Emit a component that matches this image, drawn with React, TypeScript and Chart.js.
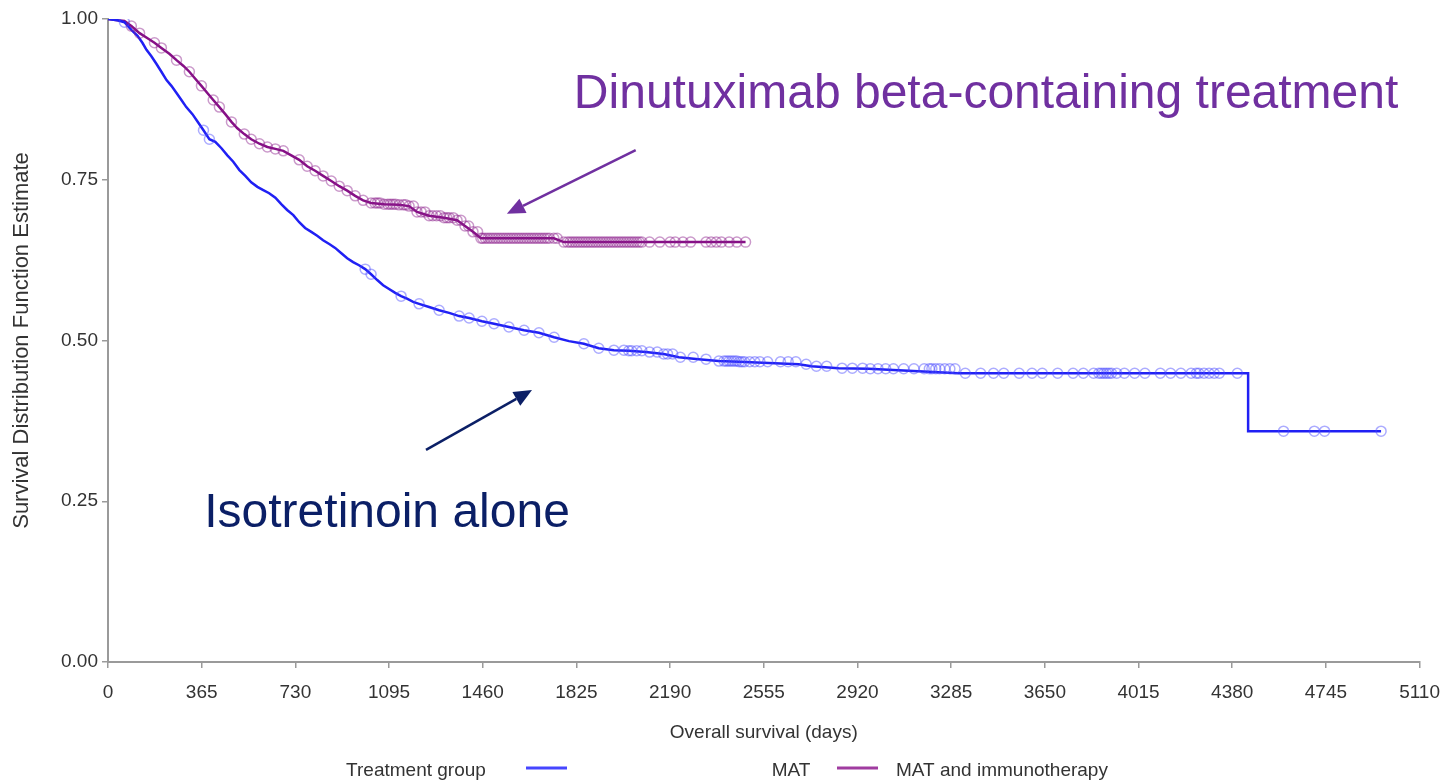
import React, { useEffect, useRef } from "react";
import { Chart, registerables } from "chart.js";

Chart.register(...registerables);

const FONT = '"Liberation Sans", Arial, Helvetica, sans-serif';

// Axis ticks
const xTickValues = [0, 365, 730, 1095, 1460, 1825, 2190, 2555, 2920, 3285, 3650, 4015, 4380, 4745, 5110];
const yTickValues = [0, 0.25, 0.5, 0.75, 1.0];

// MAT (isotretinoin alone) Kaplan-Meier estimate
const matDays = [0, 37, 64, 91, 115, 134, 150, 169, 189, 208, 228, 247, 267, 286, 305, 329, 348, 372, 395, 418, 442, 465, 488, 512, 535, 558, 582, 605, 628, 652, 675, 698, 722, 745, 768, 792, 815, 838, 862, 885, 908, 932, 955, 978, 1002, 1025, 1049, 1072, 1095, 1119, 1142, 1165, 1189, 1212, 1251, 1290, 1329, 1368, 1407, 1457, 1504, 1562, 1621, 1679, 1738, 1796, 1854, 1912, 1971, 2029, 2095, 2165, 2224, 2301, 2379, 2457, 2691, 2741, 2846, 2963, 3313, 4442, 4442, 4960];
const matSurv = [1.0, 0.998, 0.995, 0.983, 0.974, 0.963, 0.952, 0.942, 0.93, 0.918, 0.905, 0.896, 0.885, 0.874, 0.863, 0.852, 0.841, 0.827, 0.813, 0.809, 0.799, 0.788, 0.778, 0.765, 0.756, 0.746, 0.739, 0.734, 0.729, 0.722, 0.712, 0.703, 0.695, 0.684, 0.675, 0.669, 0.663, 0.656, 0.65, 0.644, 0.636, 0.628, 0.622, 0.617, 0.611, 0.603, 0.594, 0.586, 0.58, 0.574, 0.569, 0.565, 0.56, 0.557, 0.552, 0.547, 0.543, 0.538, 0.535, 0.53, 0.526, 0.521, 0.516, 0.512, 0.505, 0.499, 0.495, 0.488, 0.485, 0.484, 0.482, 0.479, 0.474, 0.471, 0.468, 0.467, 0.463, 0.46, 0.457, 0.456, 0.449, 0.449, 0.359, 0.359];
const matCensorDays = [64, 372, 395, 1002, 1025, 1142, 1212, 1290, 1368, 1407, 1457, 1504, 1562, 1621, 1679, 1738, 1854, 1912, 1971, 2010, 2029, 2040, 2060, 2080, 2110, 2140, 2165, 2180, 2200, 2230, 2280, 2330, 2380, 2400, 2410, 2420, 2430, 2440, 2450, 2460, 2470, 2480, 2500, 2520, 2540, 2570, 2620, 2650, 2680, 2720, 2760, 2800, 2860, 2900, 2940, 2970, 3000, 3030, 3060, 3100, 3140, 3180, 3200, 3210, 3225, 3240, 3260, 3280, 3300, 3340, 3400, 3450, 3490, 3550, 3600, 3640, 3700, 3760, 3800, 3840, 3860, 3870, 3880, 3890, 3900, 3910, 3930, 3960, 4000, 4040, 4100, 4140, 4180, 4220, 4240, 4250, 4270, 4290, 4310, 4330, 4400, 4580, 4700, 4740, 4960];

// MAT and immunotherapy (dinutuximab beta-containing) Kaplan-Meier estimate
const immDays = [0, 37, 64, 91, 123, 154, 181, 208, 239, 267, 294, 317, 340, 364, 387, 410, 434, 457, 481, 504, 531, 558, 590, 621, 652, 683, 714, 745, 776, 807, 838, 870, 901, 932, 963, 994, 1025, 1076, 1134, 1173, 1204, 1251, 1309, 1360, 1391, 1422, 1453, 1737, 1776, 2484];
const immSurv = [1.0, 0.998, 0.997, 0.989, 0.978, 0.97, 0.963, 0.955, 0.946, 0.936, 0.927, 0.918, 0.907, 0.896, 0.885, 0.874, 0.863, 0.852, 0.84, 0.83, 0.821, 0.813, 0.806, 0.801, 0.798, 0.795, 0.788, 0.781, 0.771, 0.764, 0.756, 0.748, 0.74, 0.733, 0.725, 0.718, 0.714, 0.712, 0.711, 0.709, 0.7, 0.694, 0.691, 0.687, 0.678, 0.669, 0.659, 0.659, 0.653, 0.653];
const immCensorDays = [91, 123, 181, 208, 267, 317, 364, 410, 434, 481, 531, 558, 590, 621, 652, 683, 745, 776, 807, 838, 870, 901, 932, 963, 994, 1025, 1040, 1050, 1060, 1076, 1090, 1100, 1110, 1120, 1134, 1150, 1160, 1173, 1190, 1204, 1220, 1235, 1251, 1265, 1280, 1295, 1309, 1320, 1330, 1345, 1360, 1375, 1391, 1405, 1422, 1440, 1453, 1460, 1470, 1480, 1490, 1500, 1510, 1520, 1530, 1540, 1550, 1560, 1570, 1580, 1590, 1600, 1610, 1620, 1630, 1640, 1650, 1660, 1670, 1680, 1690, 1700, 1710, 1720, 1737, 1750, 1776, 1790, 1800, 1810, 1820, 1830, 1840, 1850, 1860, 1870, 1880, 1890, 1900, 1910, 1920, 1930, 1940, 1950, 1960, 1970, 1980, 1990, 2000, 2010, 2020, 2030, 2040, 2050, 2060, 2070, 2080, 2110, 2150, 2190, 2210, 2240, 2270, 2330, 2350, 2370, 2390, 2420, 2450, 2484];

// Legend / annotation text
const legendTitle = "Treatment group";
const seriesNames = ["MAT", "MAT and immunotherapy"];
const immLabel = "Dinutuximab beta-containing treatment";
const matLabel = "Isotretinoin alone";
// annotation anchors in data units [days, survival]
const immLabelAnchor = [1815, 0.862];
const matLabelAnchor = [375, 0.21];
const immArrow = [[2056, 0.796], [1554, 0.697]];
const matArrow = [[1239, 0.33], [1652, 0.423]];

const curve = (days: number[], surv: number[]) => days.map((d, i) => ({ x: d, y: surv[i] }));
const survAt = (days: number[], surv: number[], t: number) => {
  let v = surv[0];
  for (let i = 0; i < days.length; i++) {
    if (days[i] <= t) v = surv[i];
  }
  return v;
};
const censors = (cd: number[], days: number[], surv: number[]) => cd.map((t) => ({ x: t, y: survAt(days, surv, t) }));

function drawArrow(ctx: CanvasRenderingContext2D, x1: number, y1: number, x2: number, y2: number, color: string) {
  const ang = Math.atan2(y2 - y1, x2 - x1);
  const len = 18;
  const hw = 8;
  const bx = x2 - len * Math.cos(ang);
  const by = y2 - len * Math.sin(ang);
  ctx.strokeStyle = color;
  ctx.fillStyle = color;
  ctx.lineWidth = 2.5;
  ctx.beginPath();
  ctx.moveTo(x1, y1);
  ctx.lineTo(bx, by);
  ctx.stroke();
  ctx.beginPath();
  ctx.moveTo(x2, y2);
  ctx.lineTo(bx + hw * Math.sin(ang), by - hw * Math.cos(ang));
  ctx.lineTo(bx - hw * Math.sin(ang), by + hw * Math.cos(ang));
  ctx.closePath();
  ctx.fill();
}

const overlayPlugin = {
  id: "overlay",
  afterDraw(chart: any) {
    const ctx = chart.ctx as CanvasRenderingContext2D;
    const xs = chart.scales.x;
    const ys = chart.scales.y;
    const px = (d: number) => xs.getPixelForValue(d);
    const py = (s: number) => ys.getPixelForValue(s);
    ctx.save();
    // annotations
    ctx.font = `48px ${FONT}`;
    ctx.textAlign = "left";
    ctx.textBaseline = "alphabetic";
    ctx.fillStyle = "#7030A0";
    ctx.fillText(immLabel, px(immLabelAnchor[0]), py(immLabelAnchor[1]));
    ctx.fillStyle = "#0B1F66";
    ctx.fillText(matLabel, px(matLabelAnchor[0]), py(matLabelAnchor[1]));
    drawArrow(ctx, px(immArrow[0][0]), py(immArrow[0][1]), px(immArrow[1][0]), py(immArrow[1][1]), "#7030A0");
    drawArrow(ctx, px(matArrow[0][0]), py(matArrow[0][1]), px(matArrow[1][0]), py(matArrow[1][1]), "#0B1F66");

    // legend (SAS style)
    const ly = 771;
    ctx.font = `19px ${FONT}`;
    ctx.textBaseline = "middle";
    ctx.fillStyle = "#333";
    ctx.textAlign = "center";
    ctx.fillText(legendTitle, 416, ly);
    ctx.lineWidth = 3;
    ctx.strokeStyle = "#4646FF";
    ctx.beginPath();
    ctx.moveTo(526, ly - 3);
    ctx.lineTo(567, ly - 3);
    ctx.stroke();
    ctx.fillText(seriesNames[0], 791, ly);
    ctx.strokeStyle = "#A03CA0";
    ctx.beginPath();
    ctx.moveTo(837, ly - 3);
    ctx.lineTo(878, ly - 3);
    ctx.stroke();
    ctx.textAlign = "left";
    ctx.fillText(seriesNames[1], 896, ly);
    ctx.restore();
  },
};

export default function App() {
  const ref = useRef<HTMLCanvasElement | null>(null);
  useEffect(() => {
    if (!ref.current) return;
    const chart = new Chart(ref.current, {
      type: "line",
      data: {
        datasets: [
          {
            label: seriesNames[0] + " censored",
            type: "scatter",
            data: censors(matCensorDays, matDays, matSurv),
            pointStyle: "circle",
            pointRadius: 5,
            borderWidth: 1.5,
            borderColor: "rgba(70,70,255,0.45)",
            backgroundColor: "rgba(0,0,0,0)",
            showLine: false,
          } as any,
          {
            label: seriesNames[1] + " censored",
            type: "scatter",
            data: censors(immCensorDays, immDays, immSurv),
            pointStyle: "circle",
            pointRadius: 5,
            borderWidth: 1.5,
            borderColor: "rgba(140,30,140,0.45)",
            backgroundColor: "rgba(0,0,0,0)",
            showLine: false,
          } as any,
          {
            label: seriesNames[0],
            data: curve(matDays, matSurv),
            borderColor: "#2020F4",
            borderWidth: 2.5,
            pointRadius: 0,
            tension: 0,
            fill: false,
          },
          {
            label: seriesNames[1],
            data: curve(immDays, immSurv),
            borderColor: "#860F86",
            borderWidth: 2.5,
            pointRadius: 0,
            tension: 0,
            fill: false,
          },
        ],
      },
      options: {
        animation: false,
        responsive: false,
        devicePixelRatio: 1,
        events: [],
        layout: { padding: { top: 19, right: 32, left: 0, bottom: 0 } },
        plugins: { legend: { display: false }, tooltip: { enabled: false } },
        scales: {
          x: {
            type: "linear",
            min: 0,
            max: 5110,
            afterBuildTicks: (s: any) => {
              s.ticks = xTickValues.map((v) => ({ value: v }));
            },
            afterFit: (s: any) => {
              s.height = 122;
            },
            ticks: {
              font: { family: FONT, size: 19 },
              color: "#333",
              padding: 13,
              maxRotation: 0,
              autoSkip: false,
              callback: (v: any) => String(v),
            },
            grid: { display: true, drawOnChartArea: false, drawTicks: true, tickLength: 6, color: "#9a9a9a", lineWidth: 1.5 },
            border: { display: true, color: "#9a9a9a", width: 2 },
            title: {
              display: true,
              text: "Overall survival (days)",
              font: { family: FONT, size: 19 },
              color: "#333",
              padding: { top: 0, bottom: 40 },
            },
          },
          y: {
            type: "linear",
            min: 0,
            max: 1,
            afterBuildTicks: (s: any) => {
              s.ticks = yTickValues.map((v) => ({ value: v }));
            },
            afterFit: (s: any) => {
              s.width = 108;
            },
            ticks: {
              font: { family: FONT, size: 19 },
              color: "#333",
              padding: 4,
              callback: (v: any) => Number(v).toFixed(2),
            },
            grid: { display: true, drawOnChartArea: false, drawTicks: true, tickLength: 6, color: "#9a9a9a", lineWidth: 1.5 },
            border: { display: true, color: "#9a9a9a", width: 2 },
            title: {
              display: true,
              text: "Survival Distribution Function Estimate",
              font: { family: FONT, size: 22 },
              color: "#333",
              padding: { top: 9, bottom: 0 },
            },
          },
        },
      },
      plugins: [overlayPlugin],
    });
    return () => chart.destroy();
  }, []);
  return (
    <div style={{ position: "absolute", left: 0, top: 0, width: 1453, height: 784, background: "#fff" }}>
      <canvas ref={ref} width={1453} height={784} style={{ display: "block" }} />
    </div>
  );
}
